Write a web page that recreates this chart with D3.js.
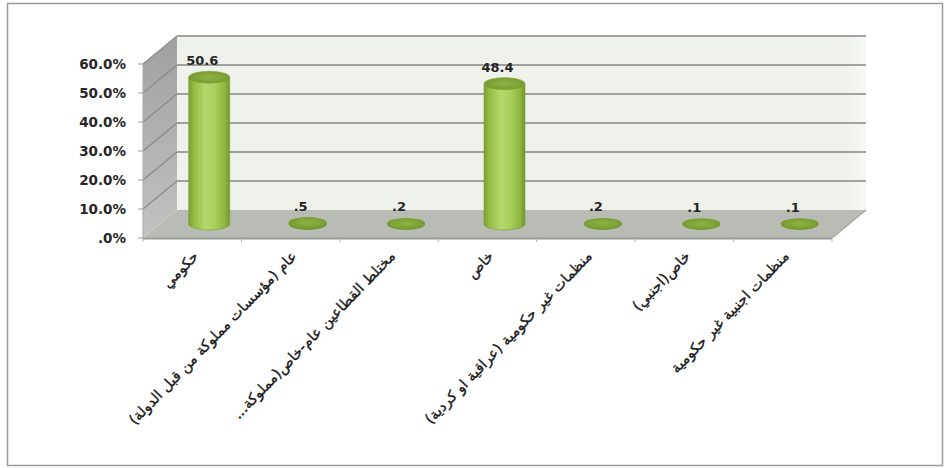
<!DOCTYPE html>
<html>
<head>
<meta charset="utf-8">
<script src="https://cdn.jsdelivr.net/npm/d3@7"></script>
<style>
html,body{margin:0;padding:0;background:#fff;}
svg{display:block;}
</style>
</head>
<body>
<svg id="chart" width="948" height="468"></svg>
<script>
const categories = [
  "حكومي",
  "عام (مؤسسات مملوكة من قبل الدولة)",
  "مختلط القطاعين عام-خاص(مملوكة...",
  "خاص",
  "منظمات غير حكومية (عراقية او كردية)",
  "خاص(اجنبي)",
  "منظمات اجنبية غير حكومية"
];
const values = [50.6, 0.5, 0.2, 48.4, 0.2, 0.1, 0.1];
const yTicks = [0, 10, 20, 30, 40, 50, 60];

const svg = d3.select("#chart");

// frame
svg.append("rect").attr("x", 7.5).attr("y", 3.5).attr("width", 935).attr("height", 462)
  .attr("fill", "#fff").attr("stroke", "#9a9a9a").attr("stroke-width", 1.5);

// 3D geometry
const depthX = 34, depthY = -28;
const x = d3.scaleBand().domain(d3.range(categories.length)).range([143, 832]).paddingInner(0).paddingOuter(0);
const y = d3.scaleLinear().domain([0, 60]).range([238, 64]);
const x0 = 143, x1 = 832;

const defs = svg.append("defs");
const lw = defs.append("linearGradient").attr("id", "leftwall").attr("x1", 0).attr("y1", 0).attr("x2", 0).attr("y2", 1);
lw.append("stop").attr("offset", "0%").attr("stop-color", "#a0a0a0");
lw.append("stop").attr("offset", "100%").attr("stop-color", "#c2c2c2");
const bw = defs.append("linearGradient").attr("id", "backwall").attr("x1", 0).attr("y1", 0).attr("x2", 1).attr("y2", 0);
bw.append("stop").attr("offset", "0%").attr("stop-color", "#eef2eb");
bw.append("stop").attr("offset", "97%").attr("stop-color", "#eef2eb");
bw.append("stop").attr("offset", "100%").attr("stop-color", "#f6f8f4");
const cyl = defs.append("linearGradient").attr("id", "cyl").attr("x1", 0).attr("y1", 0).attr("x2", 1).attr("y2", 0);
[["0%", "#7a9c2c"], ["12%", "#94bb42"], ["40%", "#b4d76c"], ["65%", "#a9cf5c"], ["88%", "#8fb53e"], ["100%", "#74962a"]]
  .forEach(s => cyl.append("stop").attr("offset", s[0]).attr("stop-color", s[1]));
const topg = defs.append("radialGradient").attr("id", "topg").attr("cx", "50%").attr("cy", "50%").attr("r", "55%");
topg.append("stop").attr("offset", "0%").attr("stop-color", "#8fb245");
topg.append("stop").attr("offset", "100%").attr("stop-color", "#769a2e");

// back wall
svg.append("rect").attr("x", x0 + depthX).attr("y", y(60) + depthY)
  .attr("width", x1 - x0).attr("height", y(0) - y(60))
  .attr("fill", "url(#backwall)");

// left wall
svg.append("path")
  .attr("d", `M${x0},${y(0)} L${x0 + depthX},${y(0) + depthY} L${x0 + depthX},${y(60) + depthY} L${x0},${y(60)} Z`)
  .attr("fill", "url(#leftwall)");

// floor
svg.append("path")
  .attr("d", `M${x0},${y(0)} L${x0 + depthX},${y(0) + depthY} L${x1 + depthX},${y(0) + depthY} L${x1},${y(0)} Z`)
  .attr("fill", "#b9bbb5");
svg.append("line").attr("x1", x0).attr("x2", x1).attr("y1", y(0) + 0.5).attr("y2", y(0) + 0.5)
  .attr("stroke", "#9a9c96").attr("stroke-width", 2);
svg.append("line").attr("x1", x1).attr("y1", y(0)).attr("x2", x1 + depthX).attr("y2", y(0) + depthY)
  .attr("stroke", "#a8aaa4").attr("stroke-width", 1.5);

// gridlines (back wall + left wall)
yTicks.forEach(t => {
  if (t === 0) return;
  svg.append("line").attr("x1", x0 + depthX).attr("x2", x1 + depthX)
    .attr("y1", y(t) + depthY).attr("y2", y(t) + depthY)
    .attr("stroke", "#868686").attr("stroke-width", 1.6);
  svg.append("line").attr("x1", x0).attr("y1", y(t)).attr("x2", x0 + depthX).attr("y2", y(t) + depthY)
    .attr("stroke", "#8a8a8a").attr("stroke-width", 1.2);
});

// left axis line and ticks
svg.append("line").attr("x1", x0).attr("x2", x0).attr("y1", y(60)).attr("y2", y(0))
  .attr("stroke", "#a9a9a9").attr("stroke-width", 1);
yTicks.forEach(t => {
  svg.append("line").attr("x1", x0 - 5).attr("x2", x0).attr("y1", y(t)).attr("y2", y(t))
    .attr("stroke", "#9a9a9a").attr("stroke-width", 1);
});

// y tick labels
const fmtPct = v => d3.format(".1f")(v).replace(/^0/, "") + "%";
svg.append("g").selectAll("text").data(yTicks).join("text")
  .attr("x", 126).attr("y", d => y(d))
  .attr("dy", "0.36em")
  .attr("text-anchor", "end")
  .attr("font-family", "DejaVu Sans, sans-serif")
  .attr("font-weight", "bold")
  .attr("font-size", 13.5)
  .attr("fill", "#262626")
  .text(fmtPct);

// category ticks on front floor edge
d3.range(categories.length + 1).forEach(i => {
  const xx = i < categories.length ? x(i) : x1;
  svg.append("line").attr("x1", xx).attr("x2", xx).attr("y1", y(0)).attr("y2", y(0) + 4)
    .attr("stroke", "#b0b0b0").attr("stroke-width", 1);
});

// cylinders
const rx = 20.5, ry = 6;
const baseY = y(0) + depthY / 2;
const hScale = y(0) - y(1); // px per unit
const bars = svg.append("g");
values.forEach((v, i) => {
  const cx = x(i) + x.bandwidth() / 2 + depthX / 2;
  const topY = baseY - v * hScale;
  if (v >= 1) {
    bars.append("path")
      .attr("d", `M${cx - rx},${topY} L${cx - rx},${baseY} A${rx},${ry} 0 0 0 ${cx + rx},${baseY} L${cx + rx},${topY} Z`)
      .attr("fill", "url(#cyl)")
      .attr("stroke", "#7c9d33").attr("stroke-width", 0.6);
    bars.append("ellipse").attr("cx", cx).attr("cy", topY).attr("rx", rx).attr("ry", ry)
      .attr("fill", "url(#topg)").attr("stroke", "#7f9f38").attr("stroke-width", 0.6);
  } else {
    bars.append("path")
      .attr("d", `M${cx - rx + 1.5},${topY} L${cx - rx + 1.5},${baseY} A${rx - 1.5},${ry} 0 0 0 ${cx + rx - 1.5},${baseY} L${cx + rx - 1.5},${topY} Z`)
      .attr("fill", "#739732");
    bars.append("ellipse").attr("cx", cx).attr("cy", topY).attr("rx", rx - 1.5).attr("ry", ry - 0.5)
      .attr("fill", "url(#topg)");
  }
});

// value labels
const fmtVal = v => d3.format(".1f")(v).replace(/^0/, "");
svg.append("g").selectAll("text").data(values).join("text")
  .attr("x", (d, i) => x(i) + x.bandwidth() / 2 + depthX / 2 - 7)
  .attr("y", d => baseY - d * hScale - 12)
  .attr("text-anchor", "middle")
  .attr("font-family", "DejaVu Sans, sans-serif")
  .attr("font-weight", "bold")
  .attr("font-size", 13)
  .attr("fill", "#262626")
  .text(fmtVal);

// category labels, rotated -45
svg.append("g").selectAll("text").data(categories).join("text")
  .attr("transform", (d, i) => `translate(${x(i) + x.bandwidth() / 2 + 7},${y(0) + 19}) rotate(-46)`)
  .attr("text-anchor", "end")
  .attr("font-family", "DejaVu Sans, sans-serif")
  .attr("font-size", 14.5)
  .attr("fill", "#1a1a1a")
  .attr("stroke", "#1a1a1a")
  .attr("stroke-width", 0.35)
  .text(d => "\u200F" + d + "\u200F");
</script>
</body>
</html>
